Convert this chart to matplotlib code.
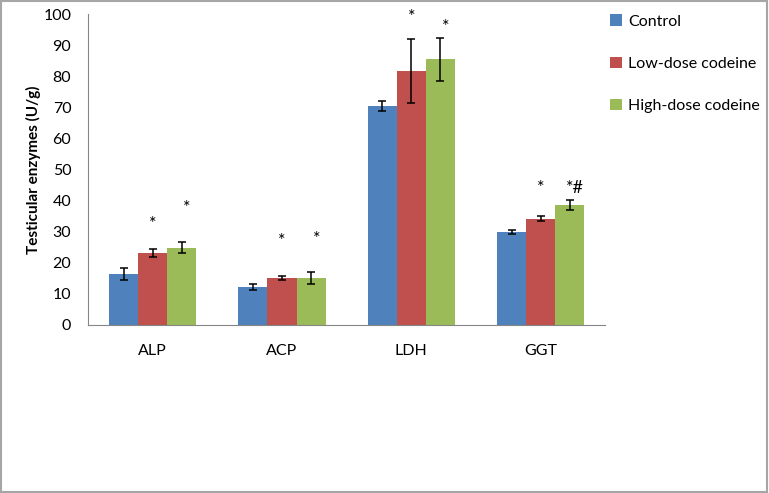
import numpy as np
import matplotlib.pyplot as plt
from matplotlib.patches import Rectangle

# --- data ---
enzymes = ['ALP', 'ACP', 'LDH', 'GGT']
groups = ['Control', 'Low-dose codeine', 'High-dose codeine']
control = [16.4, 12.2, 70.4, 29.9]
low_dose = [23.1, 15.1, 81.7, 34.1]
high_dose = [24.8, 15.1, 85.5, 38.6]
control_err = [2.0, 0.9, 1.6, 0.8]
low_err = [1.3, 0.6, 10.3, 0.8]
high_err = [1.8, 1.8, 6.9, 1.7]
# significance marks and their heights
low_marks = ['*', '*', '*', '*']
low_mark_y = [32.5, 27.0, 99.0, 44.0]
high_marks = ['*', '*', '*', '*#']
high_mark_y = [37.6, 27.6, 95.8, 44.0]

colors = ['#4F81BD', '#C0504D', '#9BBB59']
plt.rcParams['font.family'] = ['Lato', 'DejaVu Sans']

fig = plt.figure(figsize=(7.69, 4.93), dpi=100)
fig.patches.append(Rectangle((0.001, 0.002), 0.997, 0.995, transform=fig.transFigure,
                             fill=False, edgecolor='#A6A6A6', lw=1.5))
ax = fig.add_axes([0.1144, 0.3408, 0.6728, 0.6308])

x = np.arange(len(enzymes))
w = 0.225
series = [(control, control_err), (low_dose, low_err), (high_dose, high_err)]
for i, (vals, errs) in enumerate(series):
    ax.bar(x + (i - 1) * w, vals, w, color=colors[i], label=groups[i],
           yerr=errs, error_kw=dict(ecolor='black', elinewidth=1.1, capsize=3, capthick=1.1))

for j in range(len(enzymes)):
    ax.text(x[j], low_mark_y[j], low_marks[j], ha='center', va='center', fontsize=13)
    ax.text(x[j] + w + 0.04, high_mark_y[j], high_marks[j], ha='center', va='center', fontsize=13)

ax.set_xlim(-0.5, 3.5)
ax.set_ylim(0, 100)
ax.set_yticks(range(0, 101, 10))
ax.set_xticks(x)
ax.set_xticklabels(enzymes)
ax.tick_params(axis='both', length=0, labelsize=11.5)
ax.tick_params(axis='x', pad=14)
ax.tick_params(axis='y', pad=12)
for s in ['top', 'right']:
    ax.spines[s].set_visible(False)
for s in ['left', 'bottom']:
    ax.spines[s].set_color('#868686')
ax.set_ylabel('Testicular enzymes (U/g)', fontsize=11, fontweight='bold', labelpad=2)

fig.legend(loc='upper left', bbox_to_anchor=(0.775, 1.0), frameon=False, fontsize=11.5,
           handlelength=0.7, handleheight=0.7, handletextpad=0.4, labelspacing=1.75)

plt.savefig('out.png', dpi=100)
plt.close()
